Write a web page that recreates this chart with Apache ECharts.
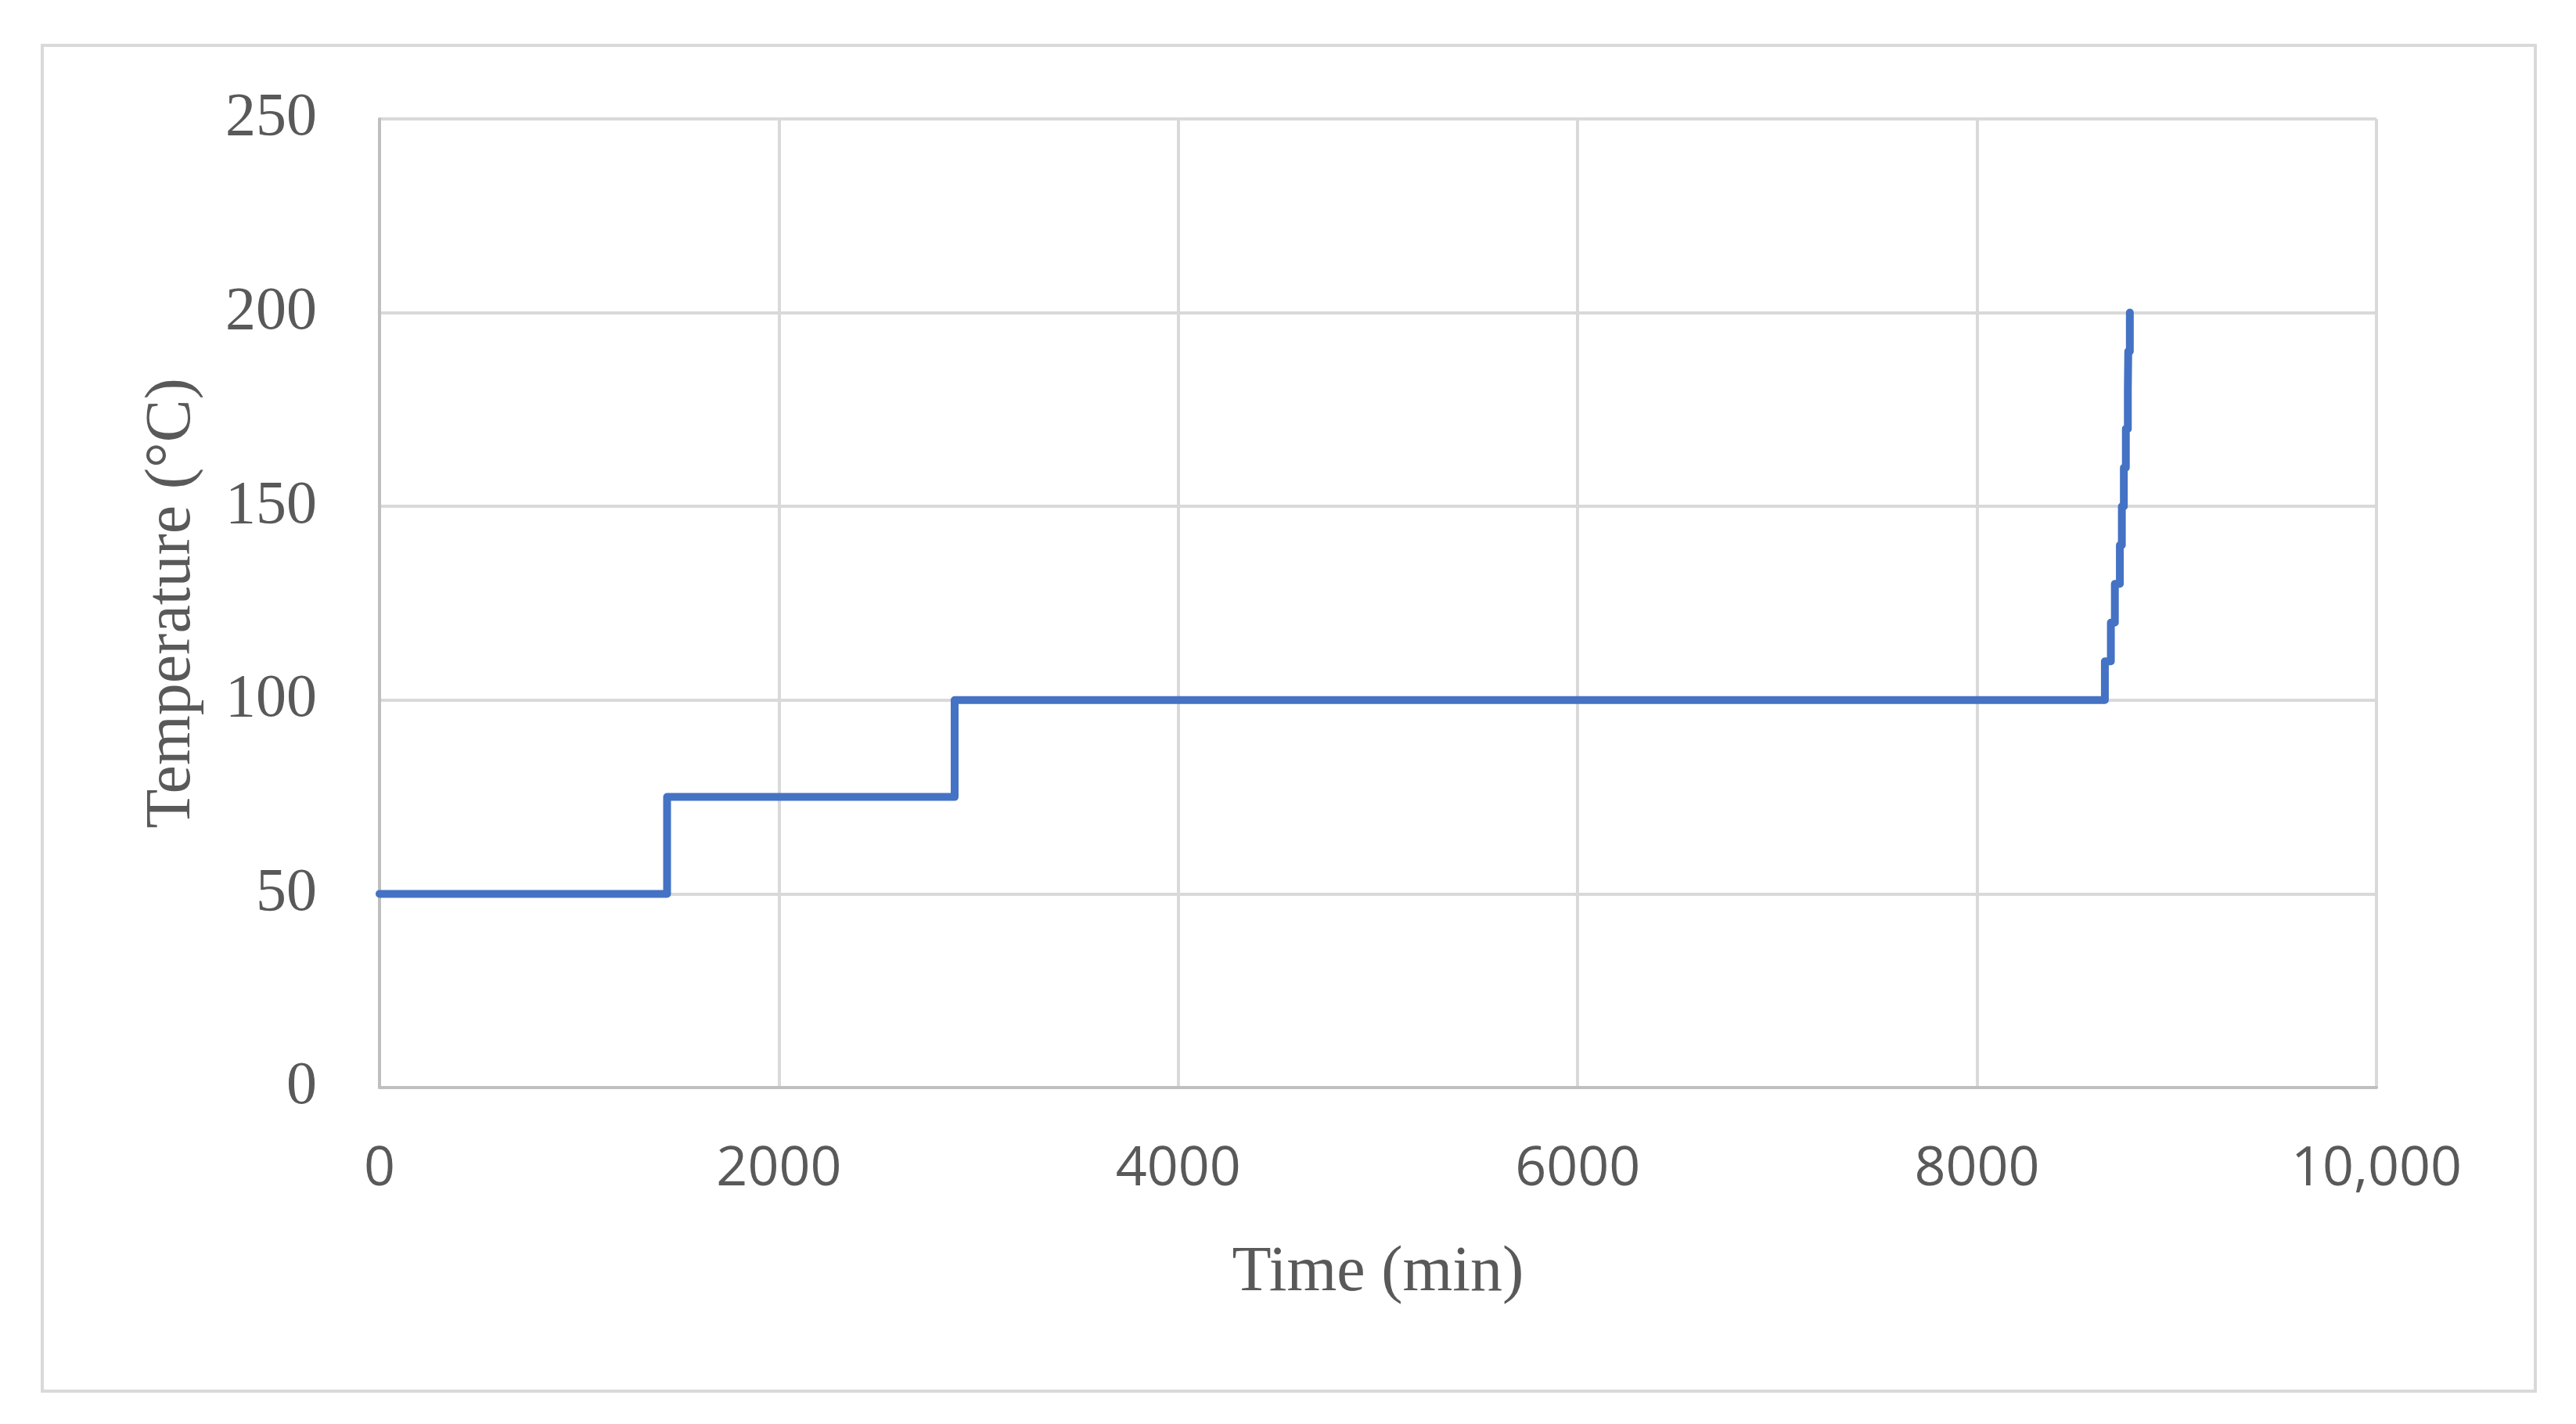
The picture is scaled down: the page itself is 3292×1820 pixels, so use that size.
<!DOCTYPE html>
<html>
<head>
<meta charset="utf-8">
<script src="https://cdn.jsdelivr.net/npm/echarts@6/dist/echarts.min.js"></script>
<style>html,body{margin:0;padding:0;background:#fff;}#chart{width:3292px;height:1820px;}</style>
</head>
<body>
<div id="chart"></div>
<script>
// Step change points: temperature holds the previous value until the time, then jumps
const times = [0, 1440, 2880, 8640, 8670, 8690, 8715, 8725, 8735, 8745, 8755, 8757, 8765];
const temps = [50, 75, 100, 110, 120, 130, 140, 150, 160, 170, 180, 190, 200];
const xTicks = [0, 2000, 4000, 6000, 8000, 10000];
const yTicks = [0, 50, 100, 150, 200, 250];
const xTitle = 'Time (min)';
const yTitle = 'Temperature (°C)';

const chart = echarts.init(document.getElementById('chart'));
const data = times.map((t, i) => [t, temps[i]]);
chart.setOption({
  animation: false,
  backgroundColor: '#ffffff',
  graphic: [{
    type: 'rect',
    shape: { x: 54, y: 58, width: 3186, height: 1720 },
    style: { fill: 'none', stroke: '#d9d9d9', lineWidth: 4 },
    z: -1
  }],
  grid: { left: 485, top: 152, right: 255, bottom: 430 },
  xAxis: {
    type: 'value', min: 0, max: 10000, interval: 2000,
    name: xTitle, nameLocation: 'middle', nameGap: 196,
    nameTextStyle: { fontFamily: 'Liberation Serif', fontSize: 82, color: '#595959' },
    axisLine: { show: true, lineStyle: { color: '#bfbfbf', width: 4 } },
    axisTick: { show: false },
    axisLabel: {
      margin: 70, fontFamily: 'Open Sans', fontSize: 70, color: '#595959',
      formatter: v => v === 10000 ? '10,000' : String(v)
    },
    splitLine: { show: true, lineStyle: { color: '#d9d9d9', width: 4 } }
  },
  yAxis: {
    type: 'value', min: 0, max: 250, interval: 50,
    name: yTitle, nameLocation: 'middle', nameGap: 224,
    nameTextStyle: { fontFamily: 'Liberation Serif', fontSize: 82, color: '#595959' },
    axisLine: { show: true, lineStyle: { color: '#bfbfbf', width: 4 } },
    axisTick: { show: false },
    axisLabel: { margin: 80, fontFamily: 'Liberation Serif', fontSize: 78, color: '#595959' },
    splitLine: { show: true, lineStyle: { color: '#d9d9d9', width: 4 } }
  },
  series: [{
    type: 'line',
    step: 'end',
    data: data,
    showSymbol: false,
    symbol: 'none',
    lineStyle: { color: '#4472c4', width: 10, join: 'round', cap: 'round' },
    z: 5
  }]
});
</script>
</body>
</html>
